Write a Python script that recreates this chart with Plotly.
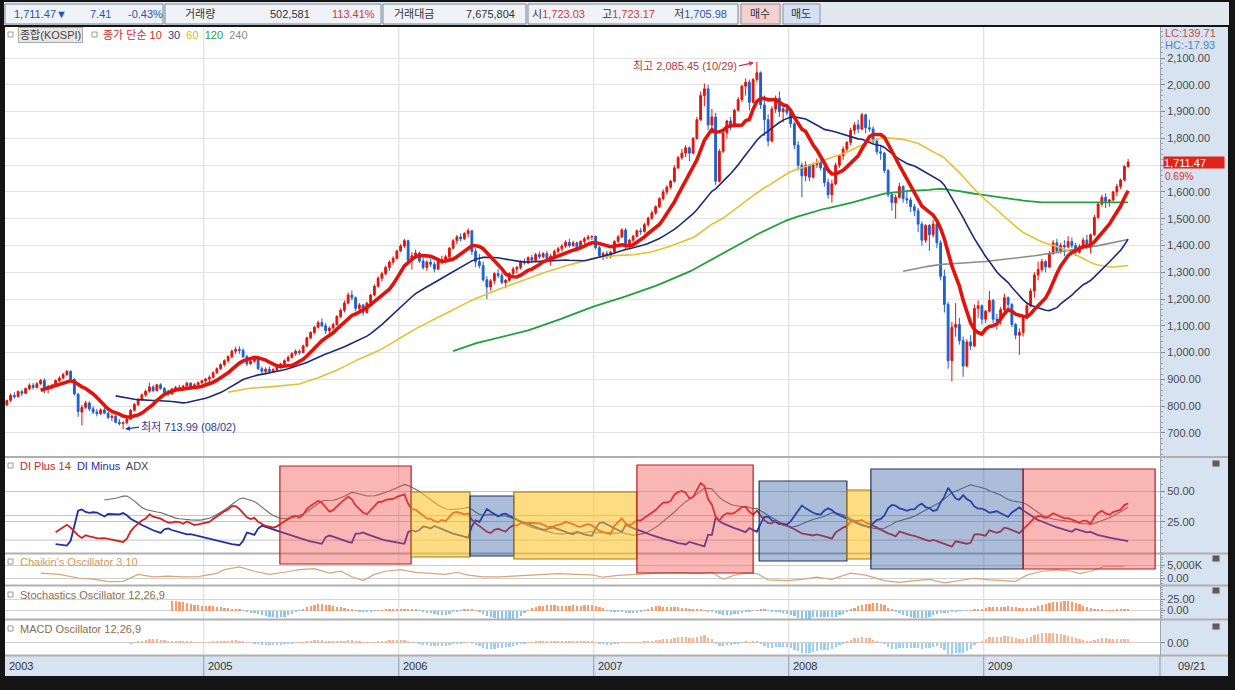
import numpy as np
import pandas as pd
import plotly.graph_objects as go

# weekly KOSPI candles, week 0 = 2003-12-29 ... week 299 = 2009-09-21
opens = [
    805, 822, 840, 836, 854, 848, 866, 878, 870, 884, 896, 866, 872, 878, 896, 905, 918, 930, 900, 845,
    778, 796, 812, 790, 778, 772, 786, 774, 758, 762, 740, 735, 738, 752, 785, 806, 825, 842, 856, 872,
    858, 880, 866, 852, 846, 864, 870, 862, 875, 886, 872, 880, 888,
    895, 902, 908, 925, 940, 955, 970, 985, 1005, 1012, 1008, 985, 958, 968, 978, 940, 930, 938, 930, 936,
    946, 958, 970, 982, 996, 1005, 1000, 1025, 1055, 1075, 1095, 1112, 1100, 1082, 1092, 1105, 1135, 1158, 1185, 1215,
    1205, 1165, 1178, 1150, 1185, 1215, 1248, 1278, 1295, 1318, 1338, 1352,
    1380, 1398, 1418, 1345, 1362, 1372, 1342, 1318, 1338, 1330, 1312, 1340, 1348, 1358, 1390, 1418, 1432, 1425, 1445, 1455,
    1378, 1340, 1325, 1272, 1245, 1268, 1295, 1288, 1262, 1270, 1295, 1312, 1318, 1340, 1335, 1355, 1345, 1366, 1358, 1370,
    1352, 1360, 1378, 1388, 1398, 1412, 1400, 1410, 1390, 1415, 1425, 1432,
    1434, 1392, 1362, 1370, 1358, 1375, 1415, 1432, 1458, 1402, 1420, 1435, 1455, 1452, 1478, 1502, 1522, 1545, 1575, 1600,
    1618, 1640, 1690, 1728, 1745, 1765, 1745, 1800, 1870, 1960, 1985, 1850, 1880, 1640, 1752, 1820, 1865, 1845, 1905, 1945,
    1995, 2010, 1935, 2020, 2045, 1925, 1870, 1790, 1910, 1950, 1900, 1910,
    1897, 1855, 1775, 1700, 1660, 1700, 1655, 1702, 1710, 1690, 1635, 1590, 1630, 1700, 1735, 1760, 1785, 1830, 1850, 1835,
    1888, 1840, 1835, 1790, 1750, 1745, 1680, 1590, 1560, 1580, 1620, 1575, 1570, 1545, 1530, 1480, 1420, 1475, 1440, 1480,
    1410, 1285, 1180, 970, 1095, 1105, 1045, 950, 1040, 1025, 1165, 1175, 1125,
    1155, 1195, 1125, 1120, 1160, 1205, 1180, 1105, 1065, 1075, 1130, 1175, 1230, 1290, 1310, 1340, 1320, 1370, 1410, 1380,
    1400, 1395, 1415, 1400, 1375, 1395, 1420, 1395, 1440, 1505, 1555, 1580, 1565, 1570, 1600, 1620, 1645, 1695,
]
highs = [
    825, 848, 852, 858, 862, 870, 885, 886, 890, 902, 904, 880, 884, 900, 912, 925, 936, 934, 905, 850,
    805, 820, 818, 800, 790, 792, 796, 780, 770, 768, 752, 744, 758, 790, 812, 830, 848, 862, 888, 878,
    884, 886, 872, 862, 868, 876, 880, 880, 892, 890, 886, 892, 898,
    905, 915, 930, 945, 960, 975, 990, 1012, 1022, 1024, 1016, 992, 975, 985, 982, 948, 945, 948, 942, 950,
    962, 975, 990, 1002, 1012, 1012, 1030, 1060, 1080, 1100, 1120, 1128, 1110, 1098, 1112, 1140, 1165, 1195, 1225, 1232,
    1210, 1185, 1182, 1190, 1220, 1255, 1285, 1302, 1325, 1345, 1360, 1385,
    1405, 1425, 1422, 1375, 1385, 1378, 1355, 1345, 1352, 1340, 1345, 1362, 1365, 1395, 1425, 1440, 1445, 1450, 1464, 1458,
    1390, 1368, 1340, 1285, 1275, 1300, 1312, 1298, 1275, 1300, 1320, 1325, 1345, 1352, 1360, 1365, 1372, 1378, 1375, 1380,
    1368, 1385, 1395, 1405, 1420, 1425, 1418, 1415, 1420, 1432, 1440, 1438,
    1438, 1398, 1378, 1380, 1380, 1420, 1440, 1465, 1465, 1425, 1440, 1460, 1465, 1485, 1508, 1530, 1550, 1580, 1610, 1625,
    1645, 1700, 1735, 1760, 1775, 1770, 1805, 1880, 1975, 2005, 2000, 1910, 1895, 1760, 1825, 1870, 1880, 1910, 1955, 2000,
    2025, 2020, 2025, 2085.45, 2050, 1960, 1890, 1920, 1960, 1975, 1925, 1920,
    1905, 1860, 1790, 1710, 1715, 1705, 1710, 1725, 1730, 1695, 1650, 1645, 1710, 1740, 1770, 1790, 1840, 1860, 1870, 1895,
    1892, 1870, 1845, 1800, 1775, 1750, 1685, 1600, 1590, 1635, 1625, 1600, 1580, 1555, 1540, 1490, 1480, 1480, 1495, 1485,
    1420, 1310, 1190, 1115, 1185, 1130, 1060, 1050, 1065, 1180, 1195, 1180, 1160,
    1230, 1200, 1145, 1170, 1220, 1210, 1185, 1110, 1090, 1140, 1190, 1240, 1300, 1340, 1350, 1345, 1380, 1420, 1425, 1410,
    1420, 1435, 1430, 1410, 1405, 1430, 1440, 1445, 1515, 1560, 1590, 1595, 1575, 1605, 1630, 1650, 1700, 1723.17,
]
lows = [
    800, 815, 828, 832, 838, 845, 860, 862, 866, 880, 848, 848, 864, 874, 890, 900, 912, 895, 840, 760,
    728, 790, 782, 770, 762, 768, 770, 752, 745, 736, 728, 713.99, 732, 748, 780, 800, 820, 835, 850, 852,
    855, 862, 845, 838, 842, 858, 858, 858, 870, 866, 866, 874, 880,
    880, 890, 904, 920, 935, 948, 962, 978, 995, 996, 980, 950, 955, 962, 935, 920, 918, 925, 925, 930,
    940, 952, 965, 978, 988, 992, 998, 1020, 1050, 1068, 1090, 1095, 1070, 1060, 1085, 1100, 1128, 1150, 1180, 1195,
    1155, 1150, 1138, 1145, 1180, 1210, 1242, 1265, 1288, 1305, 1328, 1348,
    1375, 1390, 1330, 1310, 1350, 1335, 1310, 1305, 1320, 1300, 1308, 1330, 1335, 1352, 1385, 1405, 1415, 1420, 1430, 1365,
    1320, 1315, 1265, 1200, 1232, 1255, 1278, 1255, 1240, 1265, 1285, 1295, 1310, 1328, 1330, 1338, 1340, 1350, 1352, 1345,
    1325, 1355, 1370, 1378, 1390, 1392, 1395, 1380, 1385, 1405, 1418, 1420,
    1385, 1355, 1345, 1350, 1352, 1370, 1410, 1428, 1385, 1390, 1412, 1430, 1440, 1448, 1470, 1495, 1515, 1540, 1568, 1590,
    1610, 1635, 1685, 1720, 1730, 1715, 1740, 1795, 1865, 1920, 1830, 1820, 1625, 1635, 1745, 1800, 1830, 1840, 1900, 1935,
    1960, 1905, 1930, 2010, 1910, 1810, 1770, 1785, 1895, 1880, 1860, 1885,
    1840, 1760, 1680, 1580, 1640, 1640, 1650, 1690, 1680, 1620, 1575, 1560, 1625, 1690, 1720, 1750, 1775, 1815, 1820, 1830,
    1820, 1825, 1780, 1740, 1720, 1670, 1580, 1530, 1500, 1575, 1560, 1555, 1525, 1510, 1450, 1400, 1410, 1380, 1430, 1390,
    1270, 1150, 940, 892, 1060, 1030, 910, 945, 1010, 1020, 1130, 1105, 1110,
    1150, 1110, 1085, 1105, 1150, 1165, 1095, 1050, 992, 1060, 1125, 1170, 1205, 1270, 1300, 1300, 1315, 1365, 1370, 1370,
    1360, 1390, 1390, 1360, 1370, 1385, 1385, 1370, 1435, 1500, 1545, 1540, 1545, 1565, 1585, 1610, 1640, 1690,
]
closes = [
    821, 840, 835, 855, 848, 866, 878, 870, 884, 896, 868, 872, 878, 896, 905, 918, 930, 902, 846, 780,
    795, 812, 790, 778, 772, 786, 774, 758, 762, 740, 735, 738, 752, 785, 806, 825, 842, 856, 872, 858,
    880, 866, 852, 846, 864, 870, 862, 875, 886, 872, 880, 888, 895,
    902, 908, 925, 940, 955, 970, 985, 1005, 1012, 1008, 985, 958, 968, 978, 940, 930, 938, 930, 936, 946,
    958, 970, 982, 996, 1005, 1000, 1025, 1055, 1075, 1095, 1112, 1100, 1082, 1092, 1105, 1135, 1158, 1185, 1215, 1205,
    1165, 1178, 1150, 1185, 1215, 1248, 1278, 1295, 1318, 1338, 1352, 1379,
    1398, 1418, 1345, 1362, 1372, 1342, 1318, 1338, 1330, 1312, 1340, 1348, 1358, 1390, 1418, 1432, 1425, 1445, 1455, 1378,
    1340, 1325, 1272, 1245, 1268, 1295, 1288, 1262, 1270, 1295, 1312, 1318, 1340, 1335, 1355, 1345, 1366, 1358, 1370, 1352,
    1360, 1378, 1388, 1398, 1412, 1400, 1410, 1390, 1415, 1425, 1432, 1434,
    1392, 1362, 1370, 1358, 1375, 1415, 1432, 1458, 1402, 1420, 1435, 1455, 1452, 1478, 1502, 1522, 1545, 1575, 1600, 1618,
    1640, 1690, 1728, 1745, 1765, 1745, 1800, 1870, 1960, 1985, 1850, 1880, 1640, 1752, 1820, 1865, 1845, 1905, 1945, 1995,
    2010, 1935, 2020, 2045, 1925, 1870, 1790, 1910, 1950, 1900, 1910, 1897,
    1855, 1775, 1700, 1660, 1700, 1655, 1702, 1710, 1690, 1635, 1590, 1630, 1700, 1735, 1760, 1785, 1830, 1850, 1835, 1888,
    1840, 1835, 1790, 1750, 1745, 1680, 1590, 1560, 1580, 1620, 1575, 1570, 1545, 1530, 1480, 1420, 1475, 1440, 1480, 1410,
    1285, 1180, 970, 1095, 1105, 1045, 950, 1040, 1025, 1165, 1175, 1125, 1155,
    1195, 1125, 1120, 1160, 1205, 1180, 1105, 1065, 1075, 1130, 1175, 1230, 1290, 1310, 1340, 1320, 1370, 1410, 1380, 1400,
    1395, 1415, 1400, 1375, 1395, 1420, 1395, 1440, 1505, 1555, 1580, 1565, 1570, 1600, 1620, 1645, 1695, 1711.47,
]
assert len(opens) == len(highs) == len(lows) == len(closes) == 300

ma_periods = [10, 30, 60, 120, 240]
ma_colors = ["#e3120b", "#1b2a7a", "#e8c030", "#21a03c", "#8c8c8c"]
ma_widths = [3.6, 1.6, 1.6, 1.8, 1.6]

# Chaikin's oscillator (week index, value in K)
chaikin_weeks = [9, 14, 19, 23, 27, 31, 35, 39, 43, 47, 51, 56, 58, 62, 66, 70, 74, 78, 82, 86,
                 89, 92, 95, 98, 101, 105, 109, 113, 117, 120, 123, 127, 131, 135, 139, 143, 147, 152, 156, 159,
                 163, 168, 173, 180, 184, 188, 191, 194, 197, 200, 203, 208, 212, 216, 220, 225, 229, 234, 238, 242,
                 246, 250, 254, 258, 262, 266, 269, 272, 276, 280, 284, 286, 289, 293, 298]
chaikin_vals = [1900, 1400, 0, -400, -1400, -1300, 1400, 400, 700, 400, 500, 1800, 3200, 4300, 2600, 1400, 2200, 3200, 3600, 1900,
                2600, 500, -1000, 1400, 2600, 3200, 2200, 1800, 1400, 2200, 1100, 400, 400, 700, 1100, 1400, 1700, 1400, 1200, 300,
                1000, 1400, 1900, 2100, 1700, 2200, -500, 1100, 1900, 1700, -700, -1000, -500, 300, -500, 1900, 1100, -1000, -1700, -1000,
                -500, -1900, -1000, -100, -700, -1000, -1300, 1100, 2600, 3100, 2600, 1700, 2600, 4600, 4600]

year_ticks = [0, 53, 105, 157, 209, 261]
year_labels = ["2003", "2005", "2006", "2007", "2008", "2009"]
price_ticks = list(range(700, 2101, 100))

# DMI trend boxes: start week, end week, top px, bottom px, kind
dmi_boxes = [
    (72.8, 107.8, 466, 564, "up"),
    (107.8, 123.5, 492, 557, "flat"),
    (123.5, 135.2, 496, 556, "down"),
    (135.2, 168.0, 492, 559, "flat"),
    (168.0, 199.0, 465, 573, "up"),
    (200.6, 224.0, 481, 561, "down"),
    (224.0, 230.4, 490, 559, "flat"),
    (230.4, 271.0, 469, 569, "down"),
    (271.0, 306.2, 469, 569, "up"),
]
box_style = {
    "up": ("rgba(244,78,78,0.42)", "#b32020"),
    "flat": ("rgba(252,194,40,0.58)", "#a47a16"),
    "down": ("rgba(58,98,168,0.42)", "#22355e"),
}

# ---- indicators ----
wk = np.arange(len(closes))
h = pd.Series(highs, dtype=float)
l = pd.Series(lows, dtype=float)
c = pd.Series(closes, dtype=float)

pc = c.shift(1)
tr = pd.concat([h - l, (h - pc).abs(), (l - pc).abs()], axis=1).max(axis=1)
up_move = h - h.shift(1)
dn_move = l.shift(1) - l
pdm = pd.Series(np.where((up_move > dn_move) & (up_move > 0), up_move, 0.0))
mdm = pd.Series(np.where((dn_move > up_move) & (dn_move > 0), dn_move, 0.0))


def wilder(s):
    return s.ewm(alpha=1 / 14, adjust=False, min_periods=14).mean()


atr = wilder(tr)
di_plus = 100 * wilder(pdm) / atr
di_minus = 100 * wilder(mdm) / atr
dx = 100 * (di_plus - di_minus).abs() / (di_plus + di_minus)
adx = wilder(dx)

fast_k = 100 * (c - l.rolling(26).min()) / (h.rolling(26).max() - l.rolling(26).min())
slow_k = fast_k.rolling(12).mean()
slow_d = slow_k.rolling(9).mean()
stoch_osc = slow_k - slow_d

macd = c.ewm(span=12, adjust=False, min_periods=12).mean() - c.ewm(span=26, adjust=False, min_periods=26).mean()
macd_osc = macd - macd.ewm(span=9, adjust=False, min_periods=9).mean()

# ---- page geometry ----
W, H = 1235, 690
ML, MR, MT, MB = 5, 75, 27, 35
PW, PH = W - ML - MR, H - MT - MB
FONT = "Liberation Sans, Noto Sans CJK KR, sans-serif"


def fx(px):
    return (px - ML) / PW


def fy(py):
    return (H - MB - py) / PH


fig = go.Figure()

fig.add_trace(go.Candlestick(
    x=wk, open=opens, high=highs, low=lows, close=closes, yaxis="y",
    increasing=dict(line=dict(color="#e3140c", width=1), fillcolor="#e3140c"),
    decreasing=dict(line=dict(color="#1f5fcf", width=1), fillcolor="#1f5fcf"),
    whiskerwidth=0, hoverinfo="skip"))
for p, col, lw in reversed(list(zip(ma_periods, ma_colors, ma_widths))):
    fig.add_trace(go.Scatter(x=wk, y=c.rolling(p).mean(), mode="lines", yaxis="y",
                             line=dict(color=col, width=lw), hoverinfo="skip"))

fig.add_trace(go.Scatter(x=wk, y=adx, mode="lines", yaxis="y2", line=dict(color="#6a6a6a", width=1.1)))
fig.add_trace(go.Scatter(x=wk, y=di_minus, mode="lines", yaxis="y2", line=dict(color="#1f2fa8", width=1.8)))
fig.add_trace(go.Scatter(x=wk, y=di_plus, mode="lines", yaxis="y2", line=dict(color="#d42020", width=1.8)))

fig.add_trace(go.Scatter(x=chaikin_weeks, y=chaikin_vals, mode="lines", yaxis="y3",
                         line=dict(color="#d8a577", width=1.2)))

fig.add_trace(go.Bar(x=wk, y=stoch_osc, yaxis="y4", width=0.6,
                     marker=dict(color=np.where(stoch_osc >= 0, "#f29d72", "#8cc6f0"), line_width=0)))
fig.add_trace(go.Bar(x=wk, y=macd_osc, yaxis="y5", width=0.6,
                     marker=dict(color=np.where(macd_osc >= 0, "#f5b597", "#9dcff2"), line_width=0)))

# macd scale: zero line sits 12px above the panel bottom
pos, neg = np.nanmax(macd_osc), -np.nanmin(macd_osc)
span = max(pos / 0.657, neg / 0.343) * 1.05

# the price tag on the right covers the tick label next to the last close
last_tick = min(price_ticks, key=lambda v: abs(v - closes[-1]))
price_text = ["" if v == last_tick else f"{v:,.2f}" for v in price_ticks]


def yax(domain, rng, tickvals, ticktext=None, minor_dtick=None, grid="#e3e3e3"):
    d = dict(domain=domain, range=rng, side="right", anchor="x", fixedrange=True,
             showline=True, linecolor="#98a4b2", linewidth=1,
             ticks="outside", ticklen=4, tickcolor="#888",
             tickfont=dict(family=FONT, size=11, color="#4a4a4a"),
             tickvals=tickvals, showgrid=True, gridcolor=grid, gridwidth=1, zeroline=False)
    if ticktext is not None:
        d["ticktext"] = ticktext
    if minor_dtick:
        d["minor"] = dict(ticks="outside", ticklen=2, tickcolor="#a0a0a0", dtick=minor_dtick, tick0=0, showgrid=False)
    return d


fig.update_layout(
    width=W, height=H, margin=dict(l=ML, r=MR, t=MT, b=MB),
    paper_bgcolor="#141414", plot_bgcolor="white", showlegend=False, bargap=0,
    font=dict(family=FONT, size=11),
    xaxis=dict(range=[-0.5, 307.5], showgrid=False, showticklabels=False, ticks="",
               zeroline=False, showline=False, rangeslider=dict(visible=False), anchor="y5", fixedrange=True),
    yaxis=yax([fy(456), fy(27)], [614, 2216], price_ticks, price_text, 20),
    yaxis2=yax([fy(553), fy(458)], [-0.5, 76.9], [25, 50], ["25.00", "50.00"], 5, grid="#c4c4c4"),
    yaxis3=yax([fy(585), fy(554)], [-2690, 9230], [0, 5000], ["0.00", "5,000K"], 1000, grid="#cfcfcf"),
    yaxis4=yax([fy(619), fy(586)], [-18.5, 53.3], [0, 25], ["0.00", "25.00"], 5, grid="#d4d4d4"),
    yaxis5=yax([0, fy(620)], [-0.343 * span, 0.657 * span], [0], ["0.00"], grid="#cfcfcf"),
)

shapes = []
annos = []


def rect(x0, y0, x1, y1, fill, line=None, lw=1, layer="below"):
    shapes.append(dict(type="rect", xref="paper", yref="paper", x0=fx(x0), x1=fx(x1), y0=fy(y1), y1=fy(y0),
                       fillcolor=fill, line=dict(color=line or fill, width=lw if line else 0), layer=layer))


def text(px, py, s, color="#333", size=11, xanchor="left", **kw):
    annos.append(dict(x=fx(px), y=fy(py), xref="paper", yref="paper", text=s, showarrow=False,
                      xanchor=xanchor, yanchor="middle", font=dict(family=FONT, size=size, color=color), **kw))


# toolbar
rect(4, 2, 1229, 25, "#e2e7ed")
for x0, x1 in [(5, 163), (165, 381), (383, 526), (528, 738)]:
    rect(x0, 4, x1, 24, "#eff2f6", "#7d8793")
rect(741, 4, 780, 24, "#f4d1d1", "#9a8a8a")
rect(783, 4, 820, 24, "#d4e1f3", "#8a93a3")
text(12, 14, "1,711.47▼", "#2a52b0")
text(88, 14, "7.41", "#2a52b0")
text(126, 14, "-0.43%", "#2a52b0")
text(183, 14, "거래량", "#333")
text(312, 14, "502,581", "#333", xanchor="right")
text(377, 14, "113.41%", "#d03a3a", xanchor="right")
text(392, 14, "거래대금", "#333")
text(517, 14, "7,675,804", "#333", xanchor="right")
text(530, 14, "시<span style='color:#d03a3a'>1,723.03</span>")
text(600, 14, "고<span style='color:#d03a3a'>1,723.17</span>")
text(672, 14, "저<span style='color:#2a52b0'>1,705.98</span>")
text(760, 14, "매수", "#333", xanchor="center")
text(801, 14, "매도", "#333", xanchor="center")

# right axis strip and bottom date strip
rect(1160, 27, 1228, 655, "#d7e3f0")
rect(5, 656, 1228, 676, "#d7e3f0")
shapes.append(dict(type="line", xref="paper", yref="paper", x0=fx(1160), x1=fx(1160), y0=fy(676), y1=fy(656),
                   line=dict(color="#8e9bab", width=1)))
text(1192, 666, "09/21", "#333", xanchor="center")

# year grid lines and labels
for wv, lab in zip(year_ticks, year_labels):
    if wv > 0:
        shapes.append(dict(type="line", xref="x", yref="paper", x0=wv - 0.5, x1=wv - 0.5, y0=0, y1=1,
                           line=dict(color="#d8d8d8", width=1), layer="below"))
        shapes.append(dict(type="line", xref="x", yref="paper", x0=wv - 0.5, x1=wv - 0.5, y0=fy(676), y1=fy(656),
                           line=dict(color="#8e9bab", width=1)))
    annos.append(dict(x=wv - 0.5, y=fy(666), xref="x", yref="paper", text=lab, showarrow=False,
                      xanchor="left", yanchor="middle", xshift=2, font=dict(family=FONT, size=11, color="#333")))

# extra DMI reference lines
for lv in (30, 10):
    shapes.append(dict(type="line", xref="paper", yref="y2", x0=0, x1=1, y0=lv, y1=lv,
                       line=dict(color="#c4c4c4", width=1), layer="below"))

# panel separators
for py in (457, 553.5, 585.5, 619.5, 655.5):
    shapes.append(dict(type="line", xref="paper", yref="paper", x0=fx(5), x1=fx(1228), y0=fy(py), y1=fy(py),
                       line=dict(color="#b0b0b0", width=2)))

# DMI boxes drawn over the lines
for w0, w1, top, bot, kind in dmi_boxes:
    fill, edge = box_style[kind]
    shapes.append(dict(type="rect", xref="x", yref="paper", x0=w0, x1=w1, y0=fy(bot), y1=fy(top),
                       fillcolor=fill, line=dict(color=edge, width=1.2), layer="above"))

# panel headers
for py in (35, 466, 562, 595, 629):
    rect(8, py - 3, 13, py + 2, "white", "#9a9a9a", 1, layer="above")
rect(92, 32, 97, 37, "white", "#9a9a9a", 1, layer="above")
annos.append(dict(x=fx(18), y=fy(35), xref="paper", yref="paper", showarrow=False, xanchor="left", yanchor="middle",
                  text="종합(KOSPI)", bgcolor="#e7e7e7", bordercolor="#a9a9a9", borderwidth=1, borderpad=1,
                  font=dict(family=FONT, size=11, color="#444")))
text(101, 35, "<span style='color:#d42a2a'>종가 단순 10</span>  <span style='color:#2b3a8c'>30</span>  "
              "<span style='color:#e0b820'>60</span>  <span style='color:#2c9a48'>120</span>  "
              "<span style='color:#8a8a8a'>240</span>")
text(18, 466, "<span style='color:#c42a2a'>DI Plus 14</span>  <span style='color:#2a2a9a'>DI Minus</span>  "
              "<span style='color:#444'>ADX</span>")
text(18, 562, "Chaikin's Oscillator 3,10", "#d09a60")
text(18, 595, "Stochastics Oscillator 12,26,9", "#8c6c50")
text(18, 629, "MACD Oscillator 12,26,9", "#8c6c50")

# small panel buttons on the right
for py in (464, 559, 591, 627):
    rect(1212, py - 4, 1220, py + 3, "#5c5c5c", "#d8d8d8", 1, layer="above")

# right axis extras
text(1163, 33, "LC:139.71", "#c0504d")
text(1163, 45, "HC:-17.93", "#4f81bd")
annos.append(dict(x=fx(1163), y=closes[-1], xref="paper", yref="y", text="1,711.47", showarrow=False,
                  xanchor="left", yanchor="middle", align="left", width=60, height=11, bgcolor="#e2231a",
                  borderpad=0, font=dict(family=FONT, size=11, color="white")))
annos.append(dict(x=fx(1163), y=closes[-1], xref="paper", yref="y", text="0.69%", showarrow=False,
                  xanchor="left", yanchor="top", yshift=-7, font=dict(family=FONT, size=10, color="#d8302a")))

# high / low markers
hi_w = int(np.argmax(highs))
lo_w = int(np.argmin(lows))
annos.append(dict(x=hi_w, y=highs[hi_w], xref="x", yref="y", text="최고 2,085.45 (10/29)",
                  showarrow=True, arrowhead=2, arrowsize=0.8, arrowwidth=1.2, arrowcolor="#d03a3a",
                  ax=-18, ay=4, xanchor="right", standoff=3, font=dict(family=FONT, size=11, color="#b03838")))
annos.append(dict(x=lo_w, y=lows[lo_w], xref="x", yref="y", text="최저 713.99 (08/02)",
                  showarrow=True, arrowhead=2, arrowsize=0.8, arrowwidth=1.2, arrowcolor="#1a3ad0",
                  ax=16, ay=-2, xanchor="left", standoff=2, font=dict(family=FONT, size=11, color="#2a3a8a")))

fig.update_layout(shapes=shapes, annotations=annos)
fig.write_html("out.html", config={"displayModeBar": False},
               post_script="document.body.style.margin='0px';")
